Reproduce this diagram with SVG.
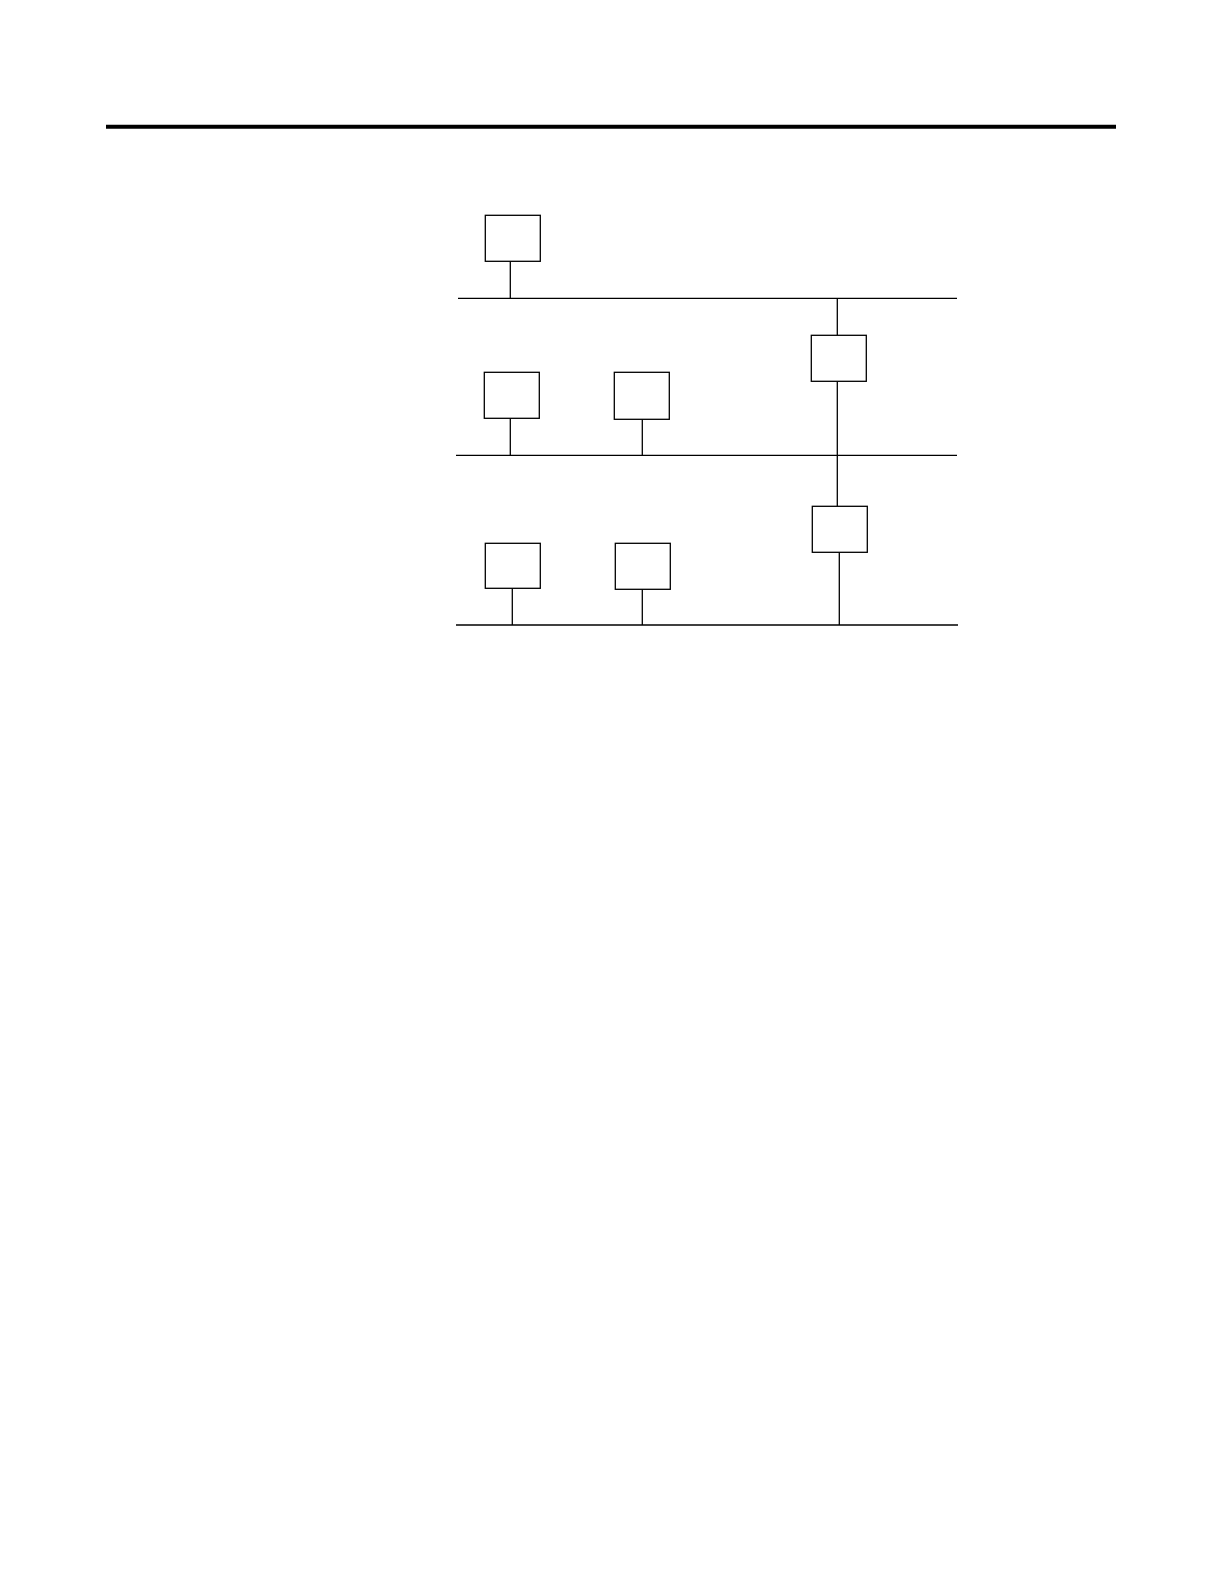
<svg xmlns="http://www.w3.org/2000/svg" width="1224" height="1584" viewBox="0 0 1224 1584">
<style>
.n{fill:#fff;stroke:#000;stroke-width:1.3}
.c{stroke:#000;stroke-width:1.3;fill:none}
</style>
<rect width="1224" height="1584" fill="#fff"/>
<line x1="106" y1="126.7" x2="1116" y2="126.7" stroke="#000" stroke-width="4"/>
<g id="connectors">
<line class="c" x1="458" y1="298.3" x2="957" y2="298.3"/>
<line class="c" x1="456" y1="455.3" x2="957" y2="455.3"/>
<line class="c" x1="456" y1="625" x2="958" y2="625"/>
<line class="c" x1="510.3" y1="261.3" x2="510.3" y2="298.3"/>
<line class="c" x1="510.3" y1="418.3" x2="510.3" y2="455.3"/>
<line class="c" x1="642.3" y1="419.3" x2="642.3" y2="455.3"/>
<line class="c" x1="837.3" y1="298.3" x2="837.3" y2="335.3"/>
<line class="c" x1="837.3" y1="381.3" x2="837.3" y2="506.3"/>
<line class="c" x1="839.3" y1="552.3" x2="839.3" y2="625"/>
<line class="c" x1="512.3" y1="588.3" x2="512.3" y2="625"/>
<line class="c" x1="642.3" y1="589.3" x2="642.3" y2="625"/>
</g>
<g id="node1"><rect class="n" x="485.3" y="215.3" width="55" height="46"/></g>
<g id="node2"><rect class="n" x="484.3" y="372.3" width="55" height="46"/></g>
<g id="node3"><rect class="n" x="614.3" y="372.3" width="55" height="47"/></g>
<g id="node4"><rect class="n" x="811.3" y="335.3" width="55" height="46"/></g>
<g id="node5"><rect class="n" x="812.3" y="506.3" width="55" height="46"/></g>
<g id="node6"><rect class="n" x="485.3" y="543.3" width="55" height="45"/></g>
<g id="node7"><rect class="n" x="615.3" y="543.3" width="55" height="46"/></g>
</svg>
